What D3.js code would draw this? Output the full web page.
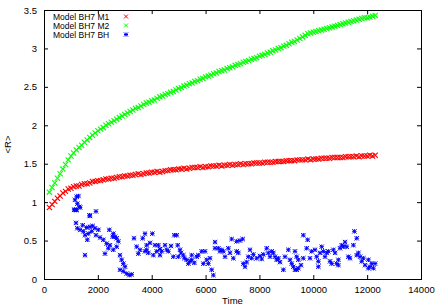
<!DOCTYPE html>
<html>
<head>
<meta charset="utf-8">
<script src="https://cdn.jsdelivr.net/npm/d3@7"></script>
<style>
  body { margin: 0; background: #fff; }
  svg { display: block; font-family: "Liberation Sans", Arial, sans-serif; }
</style>
</head>
<body>
<div id="chart"></div>
<script>
// sample times shared by the M1 and M2 series
const timeM = [200, 300, 400, 500, 600, 700, 800, 900, 1000, 1100, 1200, 1300, 1400, 1500, 1600, 1700, 1800, 1900,
  2000, 2100, 2200, 2300, 2400, 2500, 2600, 2700, 2800, 2900, 3000, 3100, 3200, 3300, 3400, 3500, 3600, 3700, 3800, 3900,
  4000, 4100, 4200, 4300, 4400, 4500, 4600, 4700, 4800, 4900, 5000, 5100, 5200, 5300, 5400, 5500, 5600, 5700, 5800, 5900,
  6000, 6100, 6200, 6300, 6400, 6500, 6600, 6700, 6800, 6900, 7000, 7100, 7200, 7300, 7400, 7500, 7600, 7700, 7800, 7900,
  8000, 8100, 8200, 8300, 8400, 8500, 8600, 8700, 8800, 8900, 9000, 9100, 9200, 9300, 9400, 9500, 9600, 9700, 9800, 9900,
  10000, 10100, 10200, 10300, 10400, 10500, 10600, 10700, 10800, 10900, 11000, 11100, 11200, 11300, 11400, 11500, 11600,
  11700, 11800, 11900, 12000, 12100, 12200, 12300];

const rM1 = [0.93, 0.97, 1.01, 1.05, 1.08, 1.12, 1.14, 1.17, 1.18, 1.20, 1.21, 1.21, 1.23, 1.24, 1.24, 1.25, 1.27, 1.27,
  1.28, 1.28, 1.29, 1.30, 1.30, 1.31, 1.31, 1.32, 1.33, 1.33, 1.34, 1.34, 1.35, 1.35, 1.36, 1.37, 1.36, 1.37, 1.38, 1.38,
  1.39, 1.39, 1.40, 1.39, 1.40, 1.41, 1.41, 1.42, 1.42, 1.42, 1.43, 1.43, 1.44, 1.43, 1.44, 1.45, 1.45, 1.45, 1.46, 1.45,
  1.46, 1.46, 1.47, 1.47, 1.47, 1.48, 1.47, 1.48, 1.48, 1.49, 1.48, 1.49, 1.49, 1.50, 1.49, 1.50, 1.50, 1.50, 1.51, 1.51,
  1.51, 1.51, 1.52, 1.52, 1.52, 1.52, 1.53, 1.53, 1.53, 1.53, 1.54, 1.54, 1.54, 1.54, 1.55, 1.55, 1.55, 1.55, 1.56, 1.55,
  1.56, 1.56, 1.56, 1.57, 1.57, 1.57, 1.57, 1.58, 1.58, 1.58, 1.58, 1.58, 1.59, 1.59, 1.59, 1.59, 1.60,
  1.59, 1.60, 1.60, 1.60, 1.61, 1.60, 1.61];

const rM2 = [1.13, 1.19, 1.25, 1.31, 1.37, 1.43, 1.49, 1.55, 1.60, 1.64, 1.68, 1.71, 1.74, 1.78, 1.81, 1.84, 1.87, 1.90,
  1.93, 1.95, 1.97, 2.00, 2.02, 2.04, 2.06, 2.08, 2.10, 2.12, 2.14, 2.16, 2.18, 2.20, 2.22, 2.23, 2.25, 2.27, 2.29, 2.30,
  2.32, 2.33, 2.35, 2.37, 2.38, 2.40, 2.41, 2.43, 2.44, 2.46, 2.48, 2.49, 2.51, 2.52, 2.54, 2.55, 2.57, 2.58, 2.60, 2.61,
  2.63, 2.64, 2.65, 2.67, 2.68, 2.70, 2.71, 2.72, 2.74, 2.75, 2.76, 2.78, 2.79, 2.80, 2.82, 2.83, 2.84, 2.86, 2.87, 2.88,
  2.90, 2.91, 2.92, 2.94, 2.95, 2.97, 2.98, 3.00, 3.01, 3.03, 3.04, 3.06, 3.08, 3.09, 3.11, 3.13, 3.15, 3.17, 3.19, 3.20,
  3.21, 3.22, 3.23, 3.24, 3.25, 3.26, 3.27, 3.28, 3.29, 3.30, 3.31, 3.32, 3.33, 3.34, 3.35, 3.36, 3.37,
  3.38, 3.39, 3.40, 3.40, 3.41, 3.42, 3.43];

// BH series: [time, <R>]
const bhPoints = [
  [1118, 0.90], [1139, 0.90], [1151, 1.03], [1188, 0.73], [1192, 0.90], [1213, 1.07], [1213, 0.90], [1238, 0.98],
  [1238, 0.66], [1279, 1.08], [1312, 0.94], [1337, 0.64], [1341, 0.93], [1436, 0.70], [1461, 0.62], [1523, 0.57],
  [1523, 0.31], [1584, 0.67], [1609, 0.51], [1646, 0.59], [1689, 0.83], [1708, 0.82], [1708, 0.68], [1770, 0.62],
  [1807, 0.69], [1894, 0.66], [1931, 0.88], [1931, 0.57], [2018, 0.64], [2080, 0.54], [2203, 0.51], [2265, 0.33],
  [2327, 0.46], [2389, 0.40], [2426, 0.64], [2451, 0.44], [2550, 0.55], [2574, 0.59], [2574, 0.38], [2637, 0.55],
  [2698, 0.53], [2698, 0.42], [2760, 0.49], [2822, 0.31], [2822, 0.12], [2884, 0.25], [2945, 0.20], [2945, 0.10],
  [3008, 0.16], [3070, 0.07], [3168, 0.05], [3256, 0.06], [3342, 0.53], [3441, 0.42], [3503, 0.33], [3565, 0.38],
  [3665, 0.53], [3751, 0.59], [3751, 0.36], [3813, 0.44], [3813, 0.38], [3875, 0.34], [3937, 0.47], [4023, 0.59],
  [4061, 0.31], [4123, 0.44], [4184, 0.36], [4246, 0.44], [4308, 0.39], [4308, 0.31], [4370, 0.36], [4494, 0.44],
  [4556, 0.38], [4618, 0.36], [4717, 0.43], [4803, 0.29], [4840, 0.57], [4927, 0.57], [4965, 0.44], [4989, 0.29],
  [5051, 0.38], [5088, 0.34], [5175, 0.31], [5212, 0.27], [5299, 0.25], [5361, 0.20], [5423, 0.23], [5484, 0.25],
  [5484, 0.31], [5583, 0.21], [5670, 0.29], [5732, 0.31], [5856, 0.36], [5918, 0.20], [5980, 0.36], [6042, 0.25],
  [6103, 0.20], [6165, 0.27], [6227, 0.12], [6289, 0.05], [6351, 0.48], [6351, 0.40], [6475, 0.40], [6537, 0.36],
  [6599, 0.38], [6660, 0.36], [6722, 0.29], [6846, 0.40], [6907, 0.34], [6969, 0.52], [7031, 0.27], [7155, 0.49],
  [7155, 0.36], [7217, 0.34], [7279, 0.50], [7378, 0.52], [7402, 0.20], [7464, 0.16], [7526, 0.22], [7588, 0.29],
  [7650, 0.38], [7712, 0.27], [7774, 0.32], [7898, 0.27], [8022, 0.30], [8084, 0.26], [8145, 0.32], [8269, 0.40],
  [8331, 0.34], [8393, 0.29], [8455, 0.36], [8517, 0.34], [8579, 0.29], [8641, 0.25], [8703, 0.27], [8765, 0.22],
  [8889, 0.12], [8950, 0.29], [9074, 0.38], [9136, 0.25], [9198, 0.20], [9260, 0.16], [9321, 0.36], [9321, 0.12],
  [9383, 0.29], [9384, 0.12], [9445, 0.25], [9445, 0.14], [9544, 0.18], [9630, 0.57], [9630, 0.27], [9754, 0.40],
  [9791, 0.51], [9878, 0.27], [9940, 0.36], [10064, 0.38], [10126, 0.29], [10188, 0.16], [10188, 0.23], [10250, 0.34],
  [10312, 0.42], [10374, 0.36], [10436, 0.29], [10498, 0.34], [10560, 0.36], [10622, 0.23], [10684, 0.20], [10746, 0.38],
  [10808, 0.34], [10870, 0.20], [10932, 0.18], [10932, 0.25], [10993, 0.40], [11055, 0.44], [11117, 0.42], [11179, 0.48],
  [11241, 0.42], [11303, 0.29], [11365, 0.27], [11489, 0.44], [11526, 0.62], [11613, 0.53], [11613, 0.31], [11675, 0.34],
  [11737, 0.29], [11799, 0.23], [11861, 0.27], [11923, 0.18], [12047, 0.25], [12047, 0.14], [12109, 0.16], [12171, 0.20],
  [12233, 0.14], [12295, 0.20]
];

const xTicks = [0, 2000, 4000, 6000, 8000, 10000, 12000, 14000];
const yTicks = [0, 0.5, 1, 1.5, 2, 2.5, 3, 3.5];
const legendLabels = ['Model BH7 M1', 'Model BH7 M2', 'Model BH7 BH'];
const seriesColors = ['#ff0000', '#00ff00', '#0000ff'];

const width = 436, height = 305;
const margin = { top: 10, right: 15, bottom: 26, left: 44 };

const svg = d3.select('#chart').append('svg')
  .attr('width', width)
  .attr('height', height);

const x = d3.scaleLinear().domain([0, 14000]).range([margin.left, width - margin.right]);
const y = d3.scaleLinear().domain([0, 3.5]).range([height - margin.bottom, margin.top]);

const tickLen = 4;

// axes with inward ticks, mirrored on top and right
const axisStyle = g => {
  g.select('.domain').remove();
  g.selectAll('line').attr('stroke', '#000');
  g.selectAll('text').attr('fill', '#000').style('font-size', '9.5px');
};

svg.append('g')
  .attr('transform', `translate(0,${y(0)})`)
  .call(d3.axisBottom(x).tickValues(xTicks).tickFormat(d3.format('d')).tickSizeInner(-tickLen).tickSizeOuter(0).tickPadding(7))
  .call(axisStyle);

svg.append('g')
  .attr('transform', `translate(0,${y(3.5)})`)
  .call(d3.axisTop(x).tickValues(xTicks).tickFormat('').tickSizeInner(-tickLen).tickSizeOuter(0))
  .call(axisStyle);

svg.append('g')
  .attr('transform', `translate(${x(0)},0)`)
  .call(d3.axisLeft(y).tickValues(yTicks).tickFormat(d => d).tickSizeInner(-tickLen).tickSizeOuter(0).tickPadding(7))
  .call(axisStyle);

svg.append('g')
  .attr('transform', `translate(${x(14000)},0)`)
  .call(d3.axisRight(y).tickValues(yTicks).tickFormat('').tickSizeInner(-tickLen).tickSizeOuter(0))
  .call(axisStyle);

// frame
svg.append('rect')
  .attr('x', x(0) + 0.5)
  .attr('y', y(3.5) + 0.5)
  .attr('width', x(14000) - x(0))
  .attr('height', y(0) - y(3.5))
  .attr('fill', 'none')
  .attr('stroke', '#000')
  .attr('stroke-width', 1);

// axis titles
svg.append('text')
  .attr('x', (x(0) + x(14000)) / 2)
  .attr('y', 304)
  .attr('text-anchor', 'middle')
  .style('font-size', '9.5px')
  .text('Time');

svg.append('text')
  .attr('transform', `translate(11,${(y(0) + y(3.5)) / 2}) rotate(-90)`)
  .attr('text-anchor', 'middle')
  .style('font-size', '9.5px')
  .text('<R>');

// marker paths
const crossPath = s => `M${-s},${-s}L${s},${s}M${-s},${s}L${s},${-s}`;
const starPath = s => `${crossPath(s)}M${-s},0L${s},0M0,${-s}L0,${s}`;

const plot = svg.append('g');

function drawSeries(points, color, path, sw) {
  plot.append('g')
    .selectAll('path')
    .data(points)
    .join('path')
    .attr('transform', d => `translate(${x(d[0])},${y(d[1])})`)
    .attr('d', path)
    .attr('fill', 'none')
    .attr('stroke', color)
    .attr('stroke-width', sw);
}

drawSeries(timeM.map((t, i) => [t, rM1[i]]), seriesColors[0], crossPath(2.6), 1.1);
drawSeries(timeM.map((t, i) => [t, rM2[i]]), seriesColors[1], crossPath(2.6), 1.1);
drawSeries(bhPoints, seriesColors[2], starPath(2.2), 1);

// legend
const legend = svg.append('g');
legendLabels.forEach((label, i) => {
  const ly = 16.5 + i * 9;
  legend.append('text')
    .attr('x', 53)
    .attr('y', ly + 3)
    .style('font-size', '8.5px')
    .text(label);
  legend.append('path')
    .attr('transform', `translate(126,${ly})`)
    .attr('d', i === 2 ? starPath(2) : crossPath(2))
    .attr('fill', 'none')
    .attr('stroke', seriesColors[i])
    .attr('stroke-width', 1);
});
</script>
</body>
</html>
